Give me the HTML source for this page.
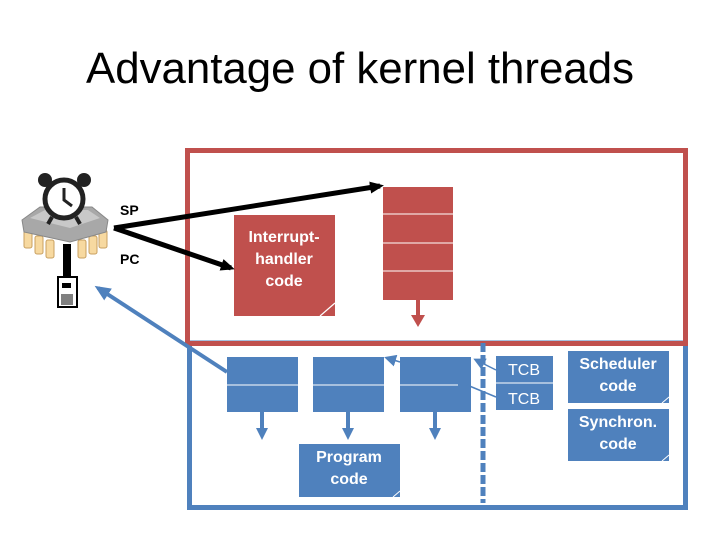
<!DOCTYPE html>
<html><head><style>body{margin:0;background:#fff}svg{display:block}</style></head><body>
<svg width="720" height="540" viewBox="0 0 720 540" xmlns="http://www.w3.org/2000/svg" font-family="Liberation Sans, sans-serif">
<defs>
<marker id="ab" markerWidth="14" markerHeight="12" refX="10" refY="6" orient="auto" markerUnits="userSpaceOnUse"><path d="M0,0 L14,6 L0,12 Z" fill="#000"/></marker>
<marker id="abl" markerWidth="12" markerHeight="12" refX="9" refY="6" orient="auto" markerUnits="userSpaceOnUse"><path d="M0,0 L12,6 L0,12 Z" fill="#4f81bd"/></marker>
<marker id="abl2" markerWidth="16" markerHeight="14" refX="12" refY="7" orient="auto" markerUnits="userSpaceOnUse"><path d="M0,0 L16,7 L0,14 Z" fill="#4f81bd"/></marker>
</defs>
<text x="360" y="83" font-size="44" text-anchor="middle" textLength="548" lengthAdjust="spacingAndGlyphs">Advantage of kernel threads</text>

<rect x="189.5" y="343" width="496" height="164.5" fill="none" stroke="#4f81bd" stroke-width="5"/>
<rect x="187.5" y="150.5" width="498" height="193" fill="none" stroke="#c0504d" stroke-width="5"/>
<line x1="483" y1="343" x2="483" y2="503" stroke="#4f81bd" stroke-width="5" stroke-dasharray="9,3"/>

<rect x="383" y="187" width="70" height="113" fill="#c0504d"/>
<g stroke="#fff" stroke-width="1"><line x1="383" y1="214" x2="453" y2="214"/><line x1="383" y1="243" x2="453" y2="243"/><line x1="383" y1="271" x2="453" y2="271"/></g>
<line x1="418" y1="300" x2="418" y2="316" stroke="#c0504d" stroke-width="4"/>
<path d="M411,315 L425,315 L418,327 Z" fill="#c0504d"/>

<rect x="234" y="215" width="101" height="101" fill="#c0504d"/>
<text fill="#fff" font-size="16" font-weight="bold" text-anchor="middle"><tspan x="284" y="242">Interrupt-</tspan><tspan x="284" y="264">handler</tspan><tspan x="284" y="286">code</tspan></text>
<path d="M320,316 L335,303" stroke="#fff" stroke-width="1.2" fill="none"/>

<g fill="#4f81bd">
<rect x="227" y="357" width="71" height="55"/><rect x="313" y="357" width="71" height="55"/><rect x="400" y="357" width="71" height="55"/>
</g>
<g stroke="#fff" stroke-width="1"><line x1="227" y1="385" x2="298" y2="385"/><line x1="313" y1="385" x2="384" y2="385"/><line x1="400" y1="385" x2="458" y2="385"/></g>
<g stroke="#4f81bd" stroke-width="4"><line x1="262" y1="412" x2="262" y2="430"/><line x1="348" y1="412" x2="348" y2="430"/><line x1="435" y1="412" x2="435" y2="430"/></g>
<g fill="#4f81bd"><path d="M256,428 L268,428 L262,440 Z"/><path d="M342,428 L354,428 L348,440 Z"/><path d="M429,428 L441,428 L435,440 Z"/></g>

<rect x="299" y="444" width="101" height="53" fill="#4f81bd"/>
<text fill="#fff" font-size="16" font-weight="bold" text-anchor="middle"><tspan x="349" y="462">Program</tspan><tspan x="349" y="484">code</tspan></text>
<path d="M393,497 L400,491" stroke="#fff" stroke-width="1"/>

<rect x="496" y="356" width="57" height="54" fill="#4f81bd"/>
<line x1="496" y1="383" x2="553" y2="383" stroke="#fff" stroke-width="1"/>
<text fill="#fff" font-size="16" text-anchor="middle"><tspan x="524" y="375">TCB</tspan><tspan x="524" y="404">TCB</tspan></text>

<rect x="568" y="351" width="101" height="52" fill="#4f81bd"/>
<rect x="568" y="409" width="101" height="52" fill="#4f81bd"/>
<text fill="#fff" font-size="16" font-weight="bold" text-anchor="middle"><tspan x="618" y="369">Scheduler</tspan><tspan x="618" y="391">code</tspan><tspan x="618" y="427">Synchron.</tspan><tspan x="618" y="449">code</tspan></text>
<path d="M662,403 L669,397 M662,461 L669,455" stroke="#fff" stroke-width="1"/>

<g stroke="#4f81bd" stroke-width="1.5" fill="none">
<line x1="496" y1="370" x2="476" y2="360" marker-end="url(#abl)"/>
<line x1="496" y1="397" x2="467" y2="385"/>
<line x1="400" y1="362" x2="387" y2="358" marker-end="url(#abl)"/>
</g>
<line x1="227" y1="372" x2="98" y2="288" stroke="#4f81bd" stroke-width="4" marker-end="url(#abl2)"/>

<line x1="114" y1="228" x2="380" y2="186" stroke="#000" stroke-width="5" marker-end="url(#ab)"/>
<line x1="114" y1="228" x2="231" y2="268" stroke="#000" stroke-width="5" marker-end="url(#ab)"/>
<text x="120" y="215" font-size="14" font-weight="bold">SP</text>
<text x="120" y="264" font-size="14" font-weight="bold">PC</text>

<g fill="#f7d9a0" stroke="#c8a060" stroke-width="1">
<rect x="24" y="230" width="8" height="18" rx="2"/><rect x="35" y="236" width="8" height="18" rx="2"/><rect x="46" y="240" width="8" height="18" rx="2"/>
<rect x="78" y="240" width="8" height="18" rx="2"/><rect x="89" y="236" width="8" height="18" rx="2"/><rect x="99" y="230" width="8" height="18" rx="2"/>
</g>
<path d="M22,220 L40,207 L92,207 L108,220 L106,232 L70,242 L24,232 Z" fill="#a8a8a8" stroke="#888"/>
<path d="M30,218 L45,210 L88,210 L100,218 L70,228 Z" fill="#c8c8c8"/>
<circle cx="45" cy="180" r="7" fill="#222"/><circle cx="84" cy="180" r="7" fill="#222"/>
<circle cx="64" cy="199" r="19" fill="#fff" stroke="#222" stroke-width="5"/>
<path d="M64,188 L64,200 L72,206" stroke="#222" stroke-width="3" fill="none"/>
<path d="M52,217 L48,224 M76,217 L80,224" stroke="#222" stroke-width="4"/>
<rect x="63" y="244" width="8" height="34" fill="#000"/>
<rect x="58" y="277" width="19" height="30" fill="#fff" stroke="#000" stroke-width="2"/>
<rect x="62" y="283" width="9" height="5" fill="#000"/>
<g stroke="#000" stroke-width="1"><line x1="62" y1="294" x2="62" y2="305"/><line x1="64" y1="294" x2="64" y2="305"/><line x1="66" y1="294" x2="66" y2="305"/><line x1="68" y1="294" x2="68" y2="305"/><line x1="70" y1="294" x2="70" y2="305"/><line x1="72" y1="294" x2="72" y2="305"/></g>
</svg>
</body></html>
